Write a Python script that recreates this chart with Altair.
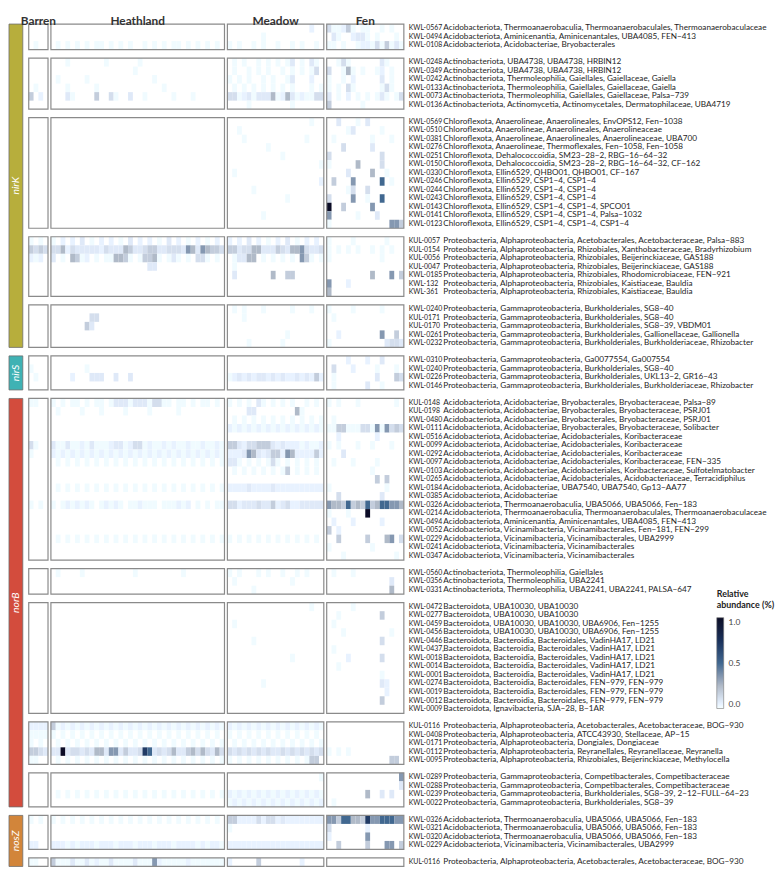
import altair as alt
import pandas as pd

HABITATS = ["Barren", "Heathland", "Meadow", "Fen"]
SAMPLES_PER_HABITAT = [4, 36, 20, 16]

# cell intensity codes (relative abundance, %)
LEVEL_CODES = "0123456789ab"
LEVEL_VALUES = [0.0, 0.02, 0.05, 0.08, 0.12, 0.18, 0.25, 0.35, 0.5, 0.7, 0.85, 1.0]

GENES = ["nirK", "nirS", "norB", "nosZ"]
GENE_COLORS = ["#b7ae3c", "#3fb2b4", "#d34c3d", "#d2853a"]

# (MAG id, taxonomy, "Barren Heathland Meadow Fen" intensity codes)
nirK_acido = [
    ("KWL-0567", "Acidobacteriota, Thermoanaerobaculia, Thermoanaerobaculales, Thermoanaerobaculaceae", "0 0 0000000000.0000000200 41125101.10010100"),
    ("KWL-0494", "Acidobacteriota, Aminicenantia, Aminicenantales, UBA4085, FEN−413", "0 0 0000000100.0000000000 03100233.10100010"),
    ("KWL-0108", "Acidobacteriota, Acidobacteriae, Bryobacterales", "0100 010101010110.101010010101.011010101010 1010010100.1001010010 11010012.21415131"),
]
nirK_actino = [
    ("KWL-0248", "Actinobacteriota, UBA4738, UBA4738, HRBIN12", "0 000100000001.000000100000.000000000000 0101001010.1013010310 00141000.00031000"),
    ("KWL-0349", "Actinobacteriota, UBA4738, UBA4738, HRBIN12", "0 000000000000.000001000000.000000000000 0100101010.0101010140 40016101.00120100"),
    ("KWL-0242", "Actinobacteriota, Thermoleophilia, Gaiellales, Gaiellaceae, Gaiella", "0 010000010000.000000000100.000000000000 1010100101.0013000200 10010200.00030100"),
    ("KWL-0133", "Actinobacteriota, Thermoleophilia, Gaiellales, Gaiellaceae, Gaiella", "0100 000100000100.000000000001.000000000000 0101010101.0101000101 10104100.00014100"),
    ("KWL-0073", "Actinobacteriota, Thermoleophilia, Gaiellales, Gaiellaceae, Palsa−739", "5020 000310000500.410030010000.010001000000 4412313336.1263121144 30102010.10131014"),
    ("KWL-0136", "Actinobacteriota, Actinomycetia, Actinomycetales, Dermatophilaceae, UBA4719", "0 0 0000100000.0001000000 50000001.00000000"),
]
nirK_chloro = [
    ("KWL-0569", "Chloroflexota, Anaerolineae, Anaerolineales, EnvOPS12, Fen−1038", "0 0 0000000000.0000000100 00300010.30000000"),
    ("KWL-0510", "Chloroflexota, Anaerolineae, Anaerolineales, Anaerolineaceae", "0 0 0010000000.0000000000 00001300.00010000"),
    ("KWL-0381", "Chloroflexota, Anaerolineae, Anaerolineales, Anaerolineaceae, UBA700", "0 0 0001000000.0000001000 01000000.01000100"),
    ("KWL-0276", "Chloroflexota, Anaerolineae, Thermoflexales, Fen−1058, Fen−1058", "0 0 0000000010.0000000000 00040000.03000000"),
    ("KWL-0251", "Chloroflexota, Dehalococcoidia, SM23−28−2, RBG−16−64−32", "0 0 0000000000.0100000000 40000000.00040000"),
    ("KWL-0150", "Chloroflexota, Dehalococcoidia, SM23−28−2, RBG−16−64−32, CF−162", "0 0 0000000000.0000000001 10000060.00040000"),
    ("KWL-0330", "Chloroflexota, Ellin6529, QHBO01, QHBO01, CF−167", "0 0 0100000000.0000000000 00003000.06001000"),
    ("KWL-0246", "Chloroflexota, Ellin6529, CSP1−4, CSP1−4", "0 0 0000000000.0000000002 05000700.00080100"),
    ("KWL-0244", "Chloroflexota, Ellin6529, CSP1−4, CSP1−4", "0 0 0000010000.0000000000 00001400.40000000"),
    ("KWL-0243", "Chloroflexota, Ellin6529, CSP1−4, CSP1−4", "0 0 0000000000.0010000000 40000700.10080000"),
    ("KWL-0143", "Chloroflexota, Ellin6529, CSP1−4, CSP1−4, SPCO01", "0 0 0000000000.0000000000 b0050000.07000000"),
    ("KWL-0141", "Chloroflexota, Ellin6529, CSP1−4, CSP1−4, Palsa−1032", "0 0 0000000100.0000000000 70000010.00300000"),
    ("KWL-0123", "Chloroflexota, Ellin6529, CSP1−4, CSP1−4, CSP1−4", "0 0 0000000000.0000000000 10000000.00000775"),
]
nirK_alpha = [
    ("KUL-0057", "Proteobacteria, Alphaproteobacteria, Acetobacterales, Acetobacteraceae, Palsa−883", "1010 102020301020.201030202010.302010201020 2020302010.2030102020 10000100.00001000"),
    ("KUL-0154", "Proteobacteria, Alphaproteobacteria, Rhizobiales, Xanthobacteraceae, Bradyrhizobium", "5454 446243333324.333653345533.444376376554 5534466333.5436674334 10101010.01010100"),
    ("KUL-0056", "Proteobacteria, Alphaproteobacteria, Rhizobiales, Beijerinckiaceae, GAS188", "2120 301065120101.166510155610.131010441010 0133660101.0101075101 10000000.00010000"),
    ("KUL-0047", "Proteobacteria, Alphaproteobacteria, Rhizobiales, Beijerinckiaceae, GAS188", "0 000000000000.000000003300.000000000000 0100000000.0000000000 0"),
    ("KWL-0185", "Proteobacteria, Alphaproteobacteria, Rhizobiales, Rhodomicrobiaceae, FEN−921", "0 0 0300000006.0055000000 00000000.06000705"),
    ("KWL-132", "Proteobacteria, Alphaproteobacteria, Rhizobiales, Kaistiaceae, Bauldia", "0 0 0 70002000.00000000"),
    ("KWL-361", "Proteobacteria, Alphaproteobacteria, Rhizobiales, Kaistiaceae, Bauldia", "0 0 0 60000000.00000000"),
]
nirK_gamma = [
    ("KWL-0240", "Proteobacteria, Gammaproteobacteria, Burkholderiales, SG8−40", "0 0 0101000100.0001000100 10000100.00010000"),
    ("KUL-0171", "Proteobacteria, Gammaproteobacteria, Burkholderiales, SG8−40", "0 000000004400.000000000000.000000000000 0001000000.0000000000 01000000.00000000"),
    ("KUL-0170", "Proteobacteria, Gammaproteobacteria, Burkholderiales, SG8−39, VBDM01", "0 000000053000.000000000000.000000000000 0 0"),
    ("KWL-0261", "Proteobacteria, Gammaproteobacteria, Burkholderiales, Gallionellaceae, Gallionella", "0 0 0000000000.0010000000 00200000.00070050"),
    ("KWL-0232", "Proteobacteria, Gammaproteobacteria, Burkholderiales, Burkholderiaceae, Rhizobacter", "0 0 0000100000.0100000000 10000000.00003443"),
]
nirS_gamma = [
    ("KWL-0310", "Proteobacteria, Gammaproteobacteria, Ga0077554, Ga007554", "0 0 0 00002000.20030000"),
    ("KWL-0240", "Proteobacteria, Gammaproteobacteria, Burkholderiales, SG8−40", "1000 000000010000 0 04000200.00100010"),
    ("KWL-0226", "Proteobacteria, Gammaproteobacteria, Burkholderiales, UKL13−2, GR16−43", "0100 000020003330.030030000000.000000000000 1232323323.2322323252 01000000.00300054"),
    ("KWL-0146", "Proteobacteria, Gammaproteobacteria, Burkholderiales, Burkholderiaceae, Rhizobacter", "0 0 0 01000000.30010000"),
]
norB_acido = [
    ("KUL-0148", "Acidobacteriota, Acidobacteriae, Bryobacterales, Bryobacteraceae, Palsa−89", "1100 101011010110.133313331441.101101011010 1010103101.0101001010 10100010.00000010"),
    ("KUL-0198", "Acidobacteriota, Acidobacteriae, Bryobacterales, Bryobacteraceae, PSRJ01", "0 010000100010.000100001000.001000000000 0000330000.0000610000 0"),
    ("KWL-0480", "Acidobacteriota, Acidobacteriae, Bryobacterales, Bryobacteraceae, PSRJ01", "0 0 0101010101.0101010101 01000000.00000000"),
    ("KWL-0111", "Acidobacteriota, Acidobacteriae, Bryobacterales, Bryobacteraceae, Solibacter", "0 0 2121212121.2121212121 11551114.41717454"),
    ("KWL-0516", "Acidobacteriota, Acidobacteriae, Acidobacteriales, Koribacteraceae", "0 0 0 00200000.00200000"),
    ("KWL-0099", "Acidobacteriota, Acidobacteriae, Acidobacteriales, Koribacteraceae", "4100 311311213111.233124412112.121121121121 5532445553.2322212112 10100010.01000100"),
    ("KWL-0292", "Acidobacteriota, Acidobacteriae, Acidobacteriales, Koribacteraceae", "1000 212121212121.212121212121.212121212121 2223763235.5276222252 00030000.00000000"),
    ("KWL-0097", "Acidobacteriota, Acidobacteriae, Acidobacteriales, Koribacteraceae, FEN−335", "0 010101010101.010101010101.010101010101 3310101014.1010101010 01000100.00100000"),
    ("KWL-0103", "Acidobacteriota, Acidobacteriae, Acidobacteriales, Koribacteraceae, Sulfotelmatobacter", "0 0 0101010101.0150101010 00000000.01000000"),
    ("KWL-0265", "Acidobacteriota, Acidobacteriae, Acidobacteriales, Acidobacteriaceae, Terracidiphilus", "0 0 0 00000000.00505000"),
    ("KWL-0184", "Acidobacteriota, Acidobacteriae, UBA7540, UBA7540, Gp13−AA77", "0 010101010101.010101010101.010101010101 2222322223.2222222222 10000000.00001000"),
    ("KWL-0385", "Acidobacteriota, Acidobacteriae", "0 0 0 00400000.00030000"),
    ("KWL-0326", "Acidobacteriota, Thermoanaerobaculia, UBA5066, UBA5066, Fen−183", "1010 101212121012.121011211101.112120101011 4423334335.2342233333 76658565.85688776"),
    ("KWL-0214", "Acidobacteriota, Thermoanaerobaculia, Thermoanaerobaculales, Thermoanaerobaculaceae", "0 0 0 10001000.b0000000"),
    ("KWL-0494", "Acidobacteriota, Aminicenantia, Aminicenantales, UBA4085, FEN−413", "0 0 0 02000200.00020000"),
    ("KWL-0052", "Acidobacteriota, Vicinamibacteria, Vicinamibacterales, Fen−181, FEN−299", "0 0 0 50200000.00000000"),
    ("KWL-0229", "Acidobacteriota, Vicinamibacteria, Vicinamibacterales, UBA2999", "0 010101010101.010101010101.010101010101 1010101010.1010101010 00500000.50006704"),
    ("KWL-0241", "Acidobacteriota, Vicinamibacteria, Vicinamibacterales", "0 0 0 10000000.01000000"),
    ("KWL-0347", "Acidobacteriota, Vicinamibacteria, Vicinamibacterales", "0 0 0 00010000.00000010"),
]
norB_actino = [
    ("KWL-0560", "Actinobacteriota, Thermoleophilia, Gaiellales", "0 010000100000.000001000000.000100000000 1010001010.0100101000 01000100.00000000"),
    ("KWL-0356", "Actinobacteriota, Thermoleophilia, UBA2241", "0 0 0100000000.0001000000 00000000.00000300"),
    ("KWL-0331", "Actinobacteriota, Thermoleophilia, UBA2241, UBA2241, PALSA−647", "0 0 0000010000.0000000000 00000000.00000600"),
]
norB_bacteroidota = [
    ("KWL-0472", "Bacteroidota, UBA10030, UBA10030", "0 0 0000000000.0000000100 00000100.00000000"),
    ("KWL-0277", "Bacteroidota, UBA10030, UBA10030", "0 0 0 00100000.00050000"),
    ("KWL-0459", "Bacteroidota, UBA10030, UBA10030, UBA6906, Fen−1255", "0 0 0100000000.0000000000 01000000.00000000"),
    ("KWL-0456", "Bacteroidota, UBA10030, UBA10030, UBA6906, Fen−1255", "0 0 0 00010000.00000100"),
    ("KWL-0446", "Bacteroidota, Bacteroidia, Bacteroidales, VadinHA17, LD21", "0 0 0000010000.0000000000 00000000.00040000"),
    ("KWL-0437,", "Bacteroidota, Bacteroidia, Bacteroidales, VadinHA17, LD21", "0 0 0 01000000.00000000"),
    ("KWL-0018", "Bacteroidota, Bacteroidia, Bacteroidales, VadinHA17, LD21", "0 0 0000000000.0001000000 00002000.00040000"),
    ("KWL-0014", "Bacteroidota, Bacteroidia, Bacteroidales, VadinHA17, LD21", "0 0 0 00100000.00000000"),
    ("KWL-0001", "Bacteroidota, Bacteroidia, Bacteroidales, VadinHA17, LD21", "0 0 0 00000000.00010000"),
    ("KWL-0274", "Bacteroidota, Bacteroidia, Bacteroidales, FEN−979, FEN−979", "0 0 0000000100.0000000000 00000000.00032000"),
    ("KWL-0019", "Bacteroidota, Bacteroidia, Bacteroidales, FEN−979, FEN−979", "0 0 0 00000000.00002000"),
    ("KWL-0012", "Bacteroidota, Bacteroidia, Bacteroidales, FEN−979, FEN−979", "0 0 0 00000000.00050000"),
    ("KWL-0009", "Bacteroidota, Ignavibacteria, SJA−28, B−1AR", "0 0 0 0"),
]
norB_alpha = [
    ("KUL-0116", "Proteobacteria, Alphaproteobacteria, Acetobacterales, Acetobacteraceae, BOG−930", "2222 512121212121.212121212121.212121212121 2121212121.2121212121 0"),
    ("KWL-0408", "Proteobacteria, Alphaproteobacteria, ATCC43930, Stellaceae, AP−15", "1111 101010101010.101010101010.101010101010 1010101010.1010101010 0"),
    ("KWL-0171", "Proteobacteria, Alphaproteobacteria, Dongiales, Dongiaceae", "1010 010101010101.010101010101.010101010101 0101010101.0101010101 0"),
    ("KWL-0112", "Proteobacteria, Alphaproteobacteria, Reyranellales, Reyranellaceae, Reyranella", "5543 33b344343663.773533498343.463356464364 4343434343.3434343434 10101000.00000000"),
    ("KWL-0095", "Proteobacteria, Alphaproteobacteria, Rhizobiales, Beijerinckiaceae, Methylocella", "1100 010101010101.010101010101.010101010101 1010101010.1010101550 00000000.00000550"),
]
norB_gamma = [
    ("KWL-0289", "Proteobacteria, Gammaproteobacteria, Competibacterales, Competibacteraceae", "0 0 0000000000.0000000001 00000000.00000007"),
    ("KWL-0288", "Proteobacteria, Gammaproteobacteria, Competibacterales, Competibacteraceae", "0 0 0 00000000.00000003"),
    ("KWL-0239", "Proteobacteria, Gammaproteobacteria, Burkholderiales, SG8−39, 2−12−FULL−64−23", "0 010101010101.010101010101.010101010101 2121212121.2121212121 00000000.60030300"),
    ("KWL-0022", "Proteobacteria, Gammaproteobacteria, Burkholderiales, SG8−39", "0 0 1212121212.1212121212 01000000.00000000"),
]
nosZ_acido = [
    ("KWL-0326", "Acidobacteriota, Thermoanaerobaculia, UBA5066, UBA5066, Fen−183", "1010 101010101010.101010101010.101010101010 5522224244.2322222222 77588665.97788877"),
    ("KWL-0321", "Acidobacteriota, Thermoanaerobaculia, UBA5066, UBA5066, Fen−183", "0 0 1000000000.0000000000 40000000.20000000"),
    ("KWL-0320", "Acidobacteriota, Thermoanaerobaculia, UBA5066, UBA5066, Fen−183", "0 0 0 20000000.70000000"),
    ("KWL-0229", "Acidobacteriota, Vicinamibacteria, Vicinamibacterales, UBA2999", "2200 222121222122.212221222122.212222121221 2222222222.2222222222 00500000.50007705"),
]
nosZ_alpha = [
    ("KUL-0116", "Proteobacteria, Alphaproteobacteria, Acetobacterales, Acetobacteraceae, BOG−930", "1100 511131131211.311113111721.111121111111 2000005000.0000020000 0"),
]

BLOCKS = [
    ("nirK", nirK_acido), ("nirK", nirK_actino), ("nirK", nirK_chloro),
    ("nirK", nirK_alpha), ("nirK", nirK_gamma),
    ("nirS", nirS_gamma),
    ("norB", norB_acido), ("norB", norB_actino), ("norB", norB_bacteroidota),
    ("norB", norB_alpha), ("norB", norB_gamma),
    ("nosZ", nosZ_acido), ("nosZ", nosZ_alpha),
]


def decode(pattern):
    parts = pattern.split()
    out = []
    for h, n in enumerate(SAMPLES_PER_HABITAT):
        s = parts[h].replace(".", "") if h < len(parts) else ""
        s = (s + "0" * n)[:n]
        out.append([LEVEL_VALUES[LEVEL_CODES.index(c)] for c in s])
    return out


# layout derived from the sample counts / row order
GAP = 0.6
starts = []
p = 0.0
for n in SAMPLES_PER_HABITAT:
    starts.append(p)
    p += n + GAP
X_TOTAL = p - GAP

cells, borders, labels = [], [], []
gene_span = {}
y = 0.0
for gene, rows in BLOCKS:
    y_start = y
    for rid, tax, pat in rows:
        vals = decode(pat)
        for h, hv in enumerate(vals):
            for j, v in enumerate(hv):
                if v > 0:
                    cells.append({"x0": starts[h] + j, "x1": starts[h] + j + 1,
                                  "y0": y, "y1": y + 1, "value": v})
        labels.append({"id": rid, "tax": tax, "ym": y + 0.5, "xr": X_TOTAL})
        y += 1
    for h, n in enumerate(SAMPLES_PER_HABITAT):
        borders.append({"x0": starts[h], "x1": starts[h] + n, "y0": y_start, "y1": y})
    lo, hi = gene_span.get(gene, (y_start, y))
    gene_span[gene] = (min(lo, y_start), max(hi, y))
    y += 1
Y_TOTAL = y - 1
Y_TOP = -1.0

cells_df = pd.DataFrame(cells)
borders_df = pd.DataFrame(borders)
labels_df = pd.DataFrame(labels)
headers_df = pd.DataFrame({
    "habitat": HABITATS,
    "xm": [s + n / 2 for s, n in zip(starts, SAMPLES_PER_HABITAT)],
    "ym": [Y_TOP * 0.4] * len(HABITATS),
})
gene_df = pd.DataFrame({
    "gene": GENES,
    "col": ["g"] * len(GENES),
    "y0": [gene_span[g][0] for g in GENES],
    "y1": [gene_span[g][1] for g in GENES],
})
gene_df["ym"] = (gene_df["y0"] + gene_df["y1"]) / 2

FONT = "Lato"
H = 862
xs = alt.Scale(domain=[0, X_TOTAL], nice=False, zero=False)
ys = alt.Scale(domain=[Y_TOP, Y_TOTAL], nice=False, zero=False, reverse=True)

cscale = alt.Scale(domain=[0, 0.25, 0.5, 0.75, 1.0],
                   range=["#ffffff", "#b0bac8", "#416890", "#19305a", "#0b0c26"])

legend = alt.Legend(
    orient="none", legendX=697, legendY=582, direction="vertical",
    title=["Relative", "abundance (%)"], titleFont=FONT, titleFontSize=9,
    titleFontWeight="bold", titleColor="#222", titlePadding=8,
    labelFont=FONT, labelFontSize=8.5, labelColor="#444", labelOffset=5,
    values=[0, 0.5, 1.0], format=".1f",
    gradientLength=92, gradientThickness=7,
    gradientStrokeColor="#777", gradientStrokeWidth=0.6,
)

heat = alt.Chart(cells_df).mark_rect().encode(
    x=alt.X("x0:Q", scale=xs, axis=None), x2="x1:Q",
    y=alt.Y("y0:Q", scale=ys, axis=None), y2="y1:Q",
    color=alt.Color("value:Q", scale=cscale, legend=legend),
)
frames = alt.Chart(borders_df).mark_rect(
    fillOpacity=0, stroke="#8a8a8a", strokeWidth=1.2
).encode(
    x=alt.X("x0:Q", scale=xs, axis=None), x2="x1:Q",
    y=alt.Y("y0:Q", scale=ys, axis=None), y2="y1:Q",
)
ids = alt.Chart(labels_df).mark_text(
    align="left", baseline="middle", dx=5, font=FONT, fontSize=7, color="#1e1e1e"
).encode(
    x=alt.X("xr:Q", scale=xs, axis=None),
    y=alt.Y("ym:Q", scale=ys, axis=None),
    text="id:N",
)
taxa = alt.Chart(labels_df).mark_text(
    align="left", baseline="middle", dx=40, font=FONT, fontSize=8.3, color="#1e1e1e"
).encode(
    x=alt.X("xr:Q", scale=xs, axis=None),
    y=alt.Y("ym:Q", scale=ys, axis=None),
    text="tax:N",
)
heads = alt.Chart(headers_df).mark_text(
    align="center", baseline="middle", font=FONT, fontSize=12,
    fontWeight="bold", color="#333"
).encode(
    x=alt.X("xm:Q", scale=xs, axis=None),
    y=alt.Y("ym:Q", scale=ys, axis=None),
    text="habitat:N",
)
main = alt.layer(heat, frames, ids, taxa, heads).properties(width=380, height=H)

gx = alt.X("col:N", axis=None, scale=alt.Scale(paddingInner=0, paddingOuter=0))
gbars = alt.Chart(gene_df).mark_rect(stroke="#6e6e6e", strokeWidth=0.8).encode(
    x=gx,
    y=alt.Y("y0:Q", scale=ys, axis=None), y2="y1:Q",
    color=alt.Color("gene:N", scale=alt.Scale(domain=GENES, range=GENE_COLORS), legend=None),
)
gtext = alt.Chart(gene_df).mark_text(
    angle=270, align="center", baseline="middle", font=FONT, fontSize=10.5,
    fontStyle="italic", color="white"
).encode(
    x=gx,
    y=alt.Y("ym:Q", scale=ys, axis=None),
    text="gene:N",
)
genes = alt.layer(gbars, gtext).properties(width=14, height=H)

chart = alt.hconcat(genes, main, spacing=6, bounds="flush", padding=0).resolve_scale(
    color="independent"
).configure_view(stroke="transparent")

chart.save("out.html", embed_options={"renderer": "svg", "actions": False})
